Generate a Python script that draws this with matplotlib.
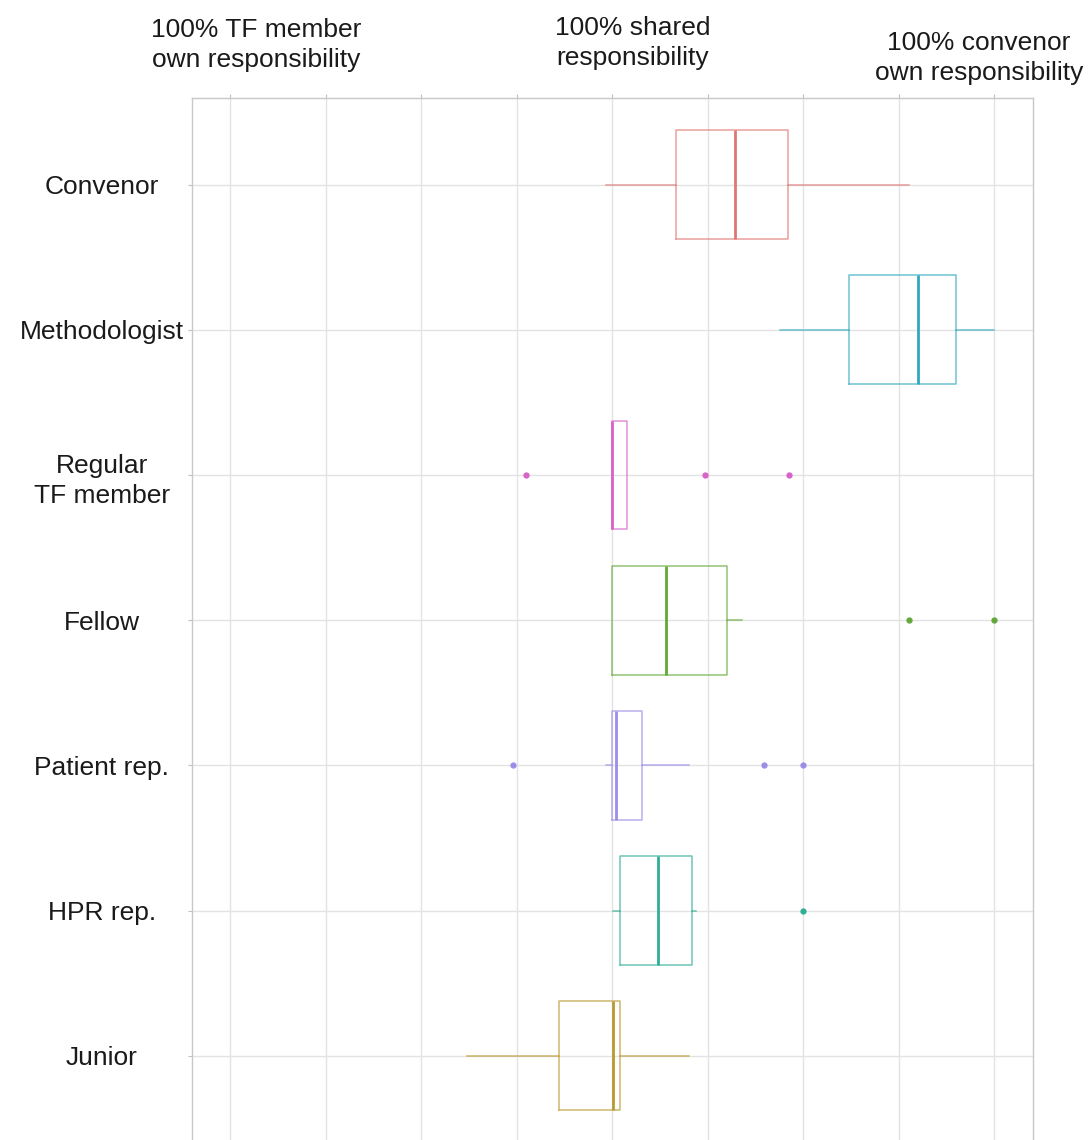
import matplotlib
matplotlib.use("Agg")
import matplotlib.pyplot as plt

# ---- data ----
categories = ["Convenor", "Methodologist", "Regular\nTF member", "Fellow",
              "Patient rep.", "HPR rep.", "Junior"]
whislo = [-0.07, 1.76, 0.00, 0.00, -0.07, 0.01, -1.52]
q1 = [0.67, 2.48, 0.00, 0.00, 0.00, 0.08, -0.56]
med = [1.28, 3.20, 0.00, 0.56, 0.04, 0.48, 0.01]
q3 = [1.84, 3.60, 0.15, 1.20, 0.31, 0.83, 0.08]
whishi = [3.11, 4.00, 0.15, 1.36, 0.80, 0.88, 0.80]
outliers = [[], [], [-0.90, 0.97, 1.85], [3.11, 4.00], [-1.04, 1.59, 2.00], [2.00], []]
colors = ["#E07674", "#2FA8C0", "#D763C8", "#62A83A", "#9A8EE8", "#2FAE96", "#B89A30"]
x_ticks = [-4, -3, -2, -1, 0, 1, 2, 3, 4]
top_labels = ["100% TF member\nown responsibility", "100% shared\nresponsibility",
              "100% convenor\nown responsibility"]

plt.rcParams['font.family'] = ['Liberation Sans', 'DejaVu Sans']

W, H = 1089, 1140
fig = plt.figure(figsize=(W / 100, H / 100), dpi=100)
ax = fig.add_axes([192 / W, -3 / H, (1032.7 - 192) / W, (1143 - 97.5) / H])

n = len(categories)
positions = list(range(n, 0, -1))

for i in range(n):
    stats = [dict(whislo=whislo[i], q1=q1[i], med=med[i], q3=q3[i],
                  whishi=whishi[i], fliers=outliers[i])]
    c = colors[i]
    ax.bxp(stats, positions=[positions[i]], widths=0.75, vert=False,
           showcaps=False, patch_artist=False,
           boxprops=dict(color=c, linewidth=1.1, alpha=0.7),
           whiskerprops=dict(color=c, linewidth=1.1, alpha=0.7),
           medianprops=dict(color=c, linewidth=2.0, alpha=1.0),
           flierprops=dict(marker='o', markerfacecolor=c, markeredgecolor=c,
                           markersize=3.5, linestyle='none'),
           manage_ticks=False, zorder=3)

ax.set_xlim(-4.4, 4.4)
ax.set_ylim(0.4, 7.6)
ax.set_xticks(x_ticks)
ax.set_yticks(positions)
ax.set_yticklabels(categories, ha='center', multialignment='center', fontsize=19,
                   color='#1a1a1a', linespacing=1.35)
ax.xaxis.tick_top()
ax.set_xticklabels([])
ax.tick_params(axis='both', color='#c0c0c0', length=3, width=0.8)
ax.tick_params(axis='y', pad=62)

ax.grid(True, color='#e3e3e3', linewidth=1.0, zorder=0)
ax.set_axisbelow(True)
for s in ax.spines.values():
    s.set_color('#c8c8c8')
    s.set_linewidth(1.0)

# top annotation labels
label_pos = [(256, 45), (633, 43), (979, 58)]
for txt, (px, py) in zip(top_labels, label_pos):
    fig.text(px / W, 1 - py / H, txt, ha='center', va='center',
             multialignment='center', fontsize=19, color='#1a1a1a',
             linespacing=1.35)

fig.savefig("out.png", dpi=100)
